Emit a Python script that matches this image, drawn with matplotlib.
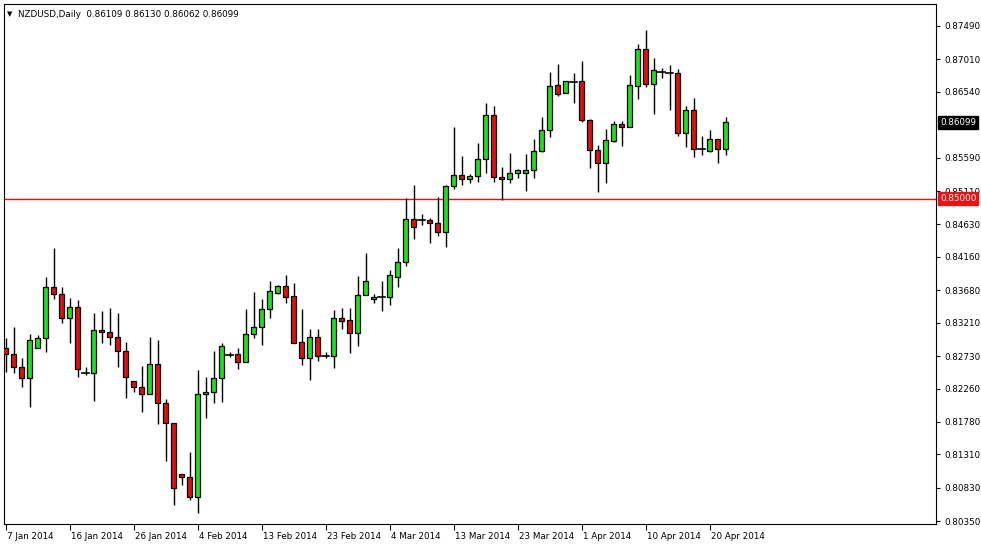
import matplotlib
matplotlib.use("Agg")
import matplotlib.pyplot as plt
from matplotlib.patches import Rectangle
import matplotlib.transforms as mt

opens = [0.828407,0.827541,0.825714,0.824079,0.828407,0.829849,0.837205,0.836196,0.832734,0.834320,
0.824897,0.824897,0.831051,0.830714,0.829993,0.828070,0.823695,0.822781,0.821772,0.826099,
0.820473,0.817589,0.810232,0.809800,0.806915,0.821772,0.822060,0.824079,0.827445,0.827541,
0.826387,0.830426,0.831436,0.834080,0.836340,0.837398,0.835956,0.829272,0.826965,0.829994,
0.827349,0.827349,0.832734,0.832494,0.830571,0.836052,0.835475,0.835859,0.835763,0.838744,
0.840812,0.847062,0.846918,0.846918,0.846437,0.845235,0.851774,0.853361,0.852784,0.853216,
0.855668,0.862062,0.853071,0.852783,0.853648,0.853648,0.854129,0.856870,0.859899,0.866389,
0.865187,0.866870,0.866966,0.861341,0.857014,0.855091,0.858360,0.860764,0.860379,0.866245,
0.871534,0.866534,0.868216,0.868072,0.868072,0.859418,0.862783,0.857110,0.856870,0.858600,
0.857110]
highs = [0.829849,0.831532,0.826964,0.830474,0.830330,0.838744,0.842831,0.837205,0.835619,0.835378,
0.825762,0.833551,0.833840,0.834176,0.833455,0.829272,0.823695,0.825858,0.830089,0.829609,
0.821050,0.817685,0.810232,0.813502,0.825281,0.824320,0.828070,0.829224,0.827926,0.828503,
0.834080,0.836581,0.835475,0.838119,0.837542,0.838985,0.837879,0.834080,0.831196,0.831196,
0.827830,0.833936,0.834177,0.834177,0.838840,0.842206,0.836196,0.838119,0.839706,0.842927,
0.850139,0.851966,0.847783,0.847254,0.850283,0.851966,0.860380,0.856197,0.853505,0.858072,
0.863842,0.863360,0.854610,0.856533,0.854274,0.856437,0.858600,0.861822,0.868313,0.869418,
0.866966,0.868168,0.869851,0.861485,0.857735,0.860043,0.861197,0.861197,0.867832,0.872303,
0.874323,0.870236,0.868793,0.869274,0.868649,0.863360,0.864466,0.859033,0.859899,0.858600,
0.861726]
lows = [0.825041,0.824801,0.822781,0.819993,0.828407,0.827926,0.835474,0.832013,0.829224,0.824320,
0.824560,0.820858,0.829224,0.828887,0.825666,0.821195,0.822156,0.819271,0.821772,0.817444,
0.812204,0.805809,0.808694,0.806530,0.804703,0.818406,0.820473,0.820714,0.827205,0.825378,
0.826387,0.829946,0.828888,0.832830,0.836196,0.834898,0.829128,0.826003,0.823839,0.826628,
0.826965,0.825618,0.831196,0.827686,0.828744,0.836052,0.834994,0.833840,0.834657,0.837302,
0.840331,0.844129,0.846197,0.843648,0.844658,0.843071,0.851389,0.851966,0.852207,0.852447,
0.853745,0.852446,0.849802,0.852206,0.852927,0.851148,0.852927,0.856677,0.858841,0.864803,
0.865187,0.863745,0.861004,0.854369,0.851004,0.852206,0.858120,0.857639,0.860283,0.864322,
0.866053,0.862158,0.867351,0.862783,0.859033,0.857495,0.855956,0.856293,0.856677,0.855187,
0.856293]
closes = [0.827589,0.825666,0.824079,0.829609,0.829849,0.837205,0.836196,0.832734,0.834320,0.825378,
0.824897,0.831051,0.830714,0.829993,0.828070,0.824224,0.822781,0.821772,0.826099,0.820473,
0.817589,0.808213,0.809800,0.806915,0.821772,0.822060,0.824079,0.828743,0.827445,0.826387,
0.830426,0.831436,0.834080,0.836629,0.837398,0.835859,0.829224,0.826965,0.829994,0.827349,
0.827349,0.832734,0.832398,0.830571,0.836100,0.838071,0.835763,0.835859,0.838985,0.840812,
0.847062,0.845860,0.846918,0.846437,0.845235,0.851774,0.853361,0.852784,0.853216,0.855668,
0.862063,0.853071,0.852783,0.853648,0.854129,0.854129,0.856870,0.859899,0.866245,0.865091,
0.866966,0.866870,0.861341,0.857014,0.855091,0.858456,0.860764,0.860379,0.866389,0.871534,
0.866534,0.868553,0.868216,0.868072,0.859418,0.862783,0.857110,0.857110,0.858600,0.857110,
0.860990]

date_labels = ["7 Jan 2014","16 Jan 2014","26 Jan 2014","4 Feb 2014","13 Feb 2014","23 Feb 2014",
               "4 Mar 2014","13 Mar 2014","23 Mar 2014","1 Apr 2014","10 Apr 2014","20 Apr 2014"]
date_idx = [0,8,16,24,32,40,48,56,64,72,80,88]
price_ticks = [0.87490,0.87010,0.86540,0.85590,0.85110,0.84630,0.84160,0.83680,0.83210,
               0.82730,0.82260,0.81780,0.81310,0.80830,0.80350]
level = 0.85000
last_price = 0.86099
header = "NZDUSD,Daily  0.86109 0.86130 0.86062 0.86099"

FS = 6.3
W, H = 981, 545
fig = plt.figure(figsize=(W/100, H/100), dpi=100)
ax = fig.add_axes([4/W, 1-524/H, 932/W, 520/H])
ax.set_xlim(-0.2125, 116.29)
ax.set_ylim(0.803069, 0.878073)

up = "#22dd22"; dn = "#dd1111"
bw = 0.62
for i, (o, h, l, c) in enumerate(zip(opens, highs, lows, closes)):
    ax.plot([i, i], [l, h], color="black", lw=1, zorder=2, solid_capstyle="butt")
    top, bot = max(o, c), min(o, c)
    if top - bot < 0.00012:
        ax.plot([i-bw/2-0.1, i+bw/2+0.1], [o, o], color="black", lw=1.2, zorder=3)
    else:
        ax.add_patch(Rectangle((i-bw/2, bot), bw, top-bot, facecolor=up if c >= o else dn,
                               edgecolor="black", lw=0.9, zorder=3))

ax.axhline(level, color="#dd1111", lw=1, zorder=1)

ax.yaxis.tick_right()
ax.set_yticks(price_ticks)
ax.set_yticklabels([f"{p:.5f}" for p in price_ticks], fontsize=FS)
ax.set_xticks(date_idx)
ax.set_xticklabels(date_labels, fontsize=FS, ha="left")
ax.tick_params(axis="y", length=3, pad=3)
ax.tick_params(axis="x", length=4, pad=2)
off = mt.ScaledTranslation(1/100, 0, fig.dpi_scale_trans)
for lab in ax.get_xticklabels():
    lab.set_transform(lab.get_transform() + off)

def price_box(p, fc):
    ax.text(1.0045, p, f"{p:.5f}", transform=ax.get_yaxis_transform(), fontsize=FS,
            color="white", va="center", ha="left",
            bbox=dict(boxstyle="square,pad=0.2", fc=fc, ec=fc))
price_box(last_price, "black")
price_box(level, "#ee1111")

ax.text(0.003, 0.987, "\u25bc", transform=ax.transAxes, fontsize=5, va="top", ha="left")
ax.text(0.015, 0.989, header, transform=ax.transAxes, fontsize=FS, va="top", ha="left")

fig.savefig("out.png", dpi=100)
